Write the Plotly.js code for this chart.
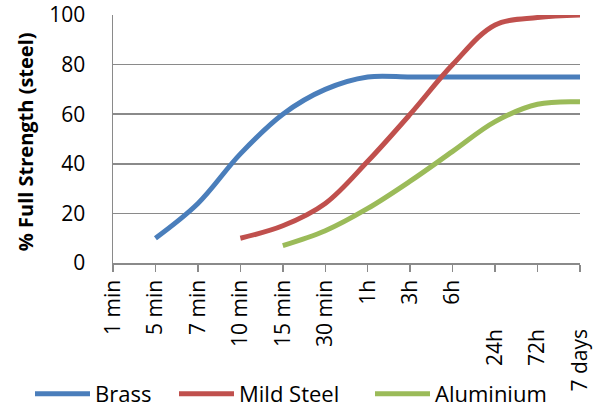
<!DOCTYPE html>
<html>
<head>
<meta charset="utf-8">
<script src="https://cdn.plot.ly/plotly-3.0.1.min.js"></script>
<style>html,body{margin:0;padding:0;background:#fff;}#chart{width:593px;height:407px;}</style>
</head>
<body>
<div id="chart"></div>
<script>
const categories = ['1 min','5 min','7 min','10 min','15 min','30 min','1h','3h','6h','24h','72h','7 days'];
const pad = '\u00a0'.repeat(9);
const tickLabels = ['1 min','5 min','7 min','10 min','15 min','30 min','1h','3h','6h',
  '24h' + pad, '72h' + pad, '7 days' + pad];
const seriesNames = ['Brass', 'Mild Steel', 'Aluminium'];
const brass     = [null, 10, 24, 44, 60, 70, 75, 75, 75, 75, 75, 75];
const mildSteel = [null, null, null, 10, 15, 24, 41, 60, 80, 96, 99, 100];
const aluminium = [null, null, null, null, 7, 13, 22, 33, 45, 57, 64, 65];
const yTicks = [0, 20, 40, 60, 80, 100];
const yTitle = '% Full Strength (steel)';

const font = '"Open Sans", Calibri, Carlito, sans-serif';
function tr(name, y, color, legendId) {
  return {x: categories, y: y, name: name, type: 'scatter', mode: 'lines', legend: legendId,
    line: {color: color, width: 5, shape: 'spline', smoothing: 1}, connectgaps: false};
}
const data = [
  tr(seriesNames[0], brass, '#4A7EBB', 'legend'),
  tr(seriesNames[1], mildSteel, '#C0504D', 'legend2'),
  tr(seriesNames[2], aluminium, '#9BBB59', 'legend3')
];
function leg(xPx) {
  return {orientation: 'h', xref: 'container', x: xPx / 593, xanchor: 'left',
    yref: 'container', y: 1 - 394 / 407, yanchor: 'middle',
    font: {size: 22}, itemwidth: 55, bgcolor: 'rgba(0,0,0,0)'};
}
const layout = {
  width: 593, height: 407,
  margin: {l: 113, r: 13, t: 15, b: 144, autoexpand: false},
  paper_bgcolor: '#fff', plot_bgcolor: '#fff',
  font: {family: font, size: 21, color: '#000'},
  showlegend: true,
  legend: leg(30), legend2: leg(174), legend3: leg(370),
  xaxis: {type: 'category', range: [0, 11], tickvals: categories, ticktext: tickLabels,
    tickangle: -90, showline: true, linecolor: '#8A8A8A', linewidth: 1.5,
    ticks: 'outside', ticklen: 7, tickcolor: '#8A8A8A', tickwidth: 1.5,
    showgrid: false, zeroline: false, tickfont: {size: 21}},
  yaxis: {range: [0, 100], tickvals: yTicks, showline: true, linecolor: '#8A8A8A', linewidth: 1.5,
    showgrid: true, gridcolor: '#8A8A8A', gridwidth: 1.5, zeroline: false,
    ticks: '', ticklabelstandoff: 22, tickfont: {size: 21}},
  annotations: [{text: yTitle, xref: 'paper', yref: 'paper', x: -0.187, y: 0.49,
    xanchor: 'center', yanchor: 'middle', textangle: -90, showarrow: false,
    font: {size: 20, family: font, weight: 'bold', color: '#000'}}]
};
Plotly.newPlot('chart', data, layout, {staticPlot: true, displayModeBar: false});
</script>
</body>
</html>
